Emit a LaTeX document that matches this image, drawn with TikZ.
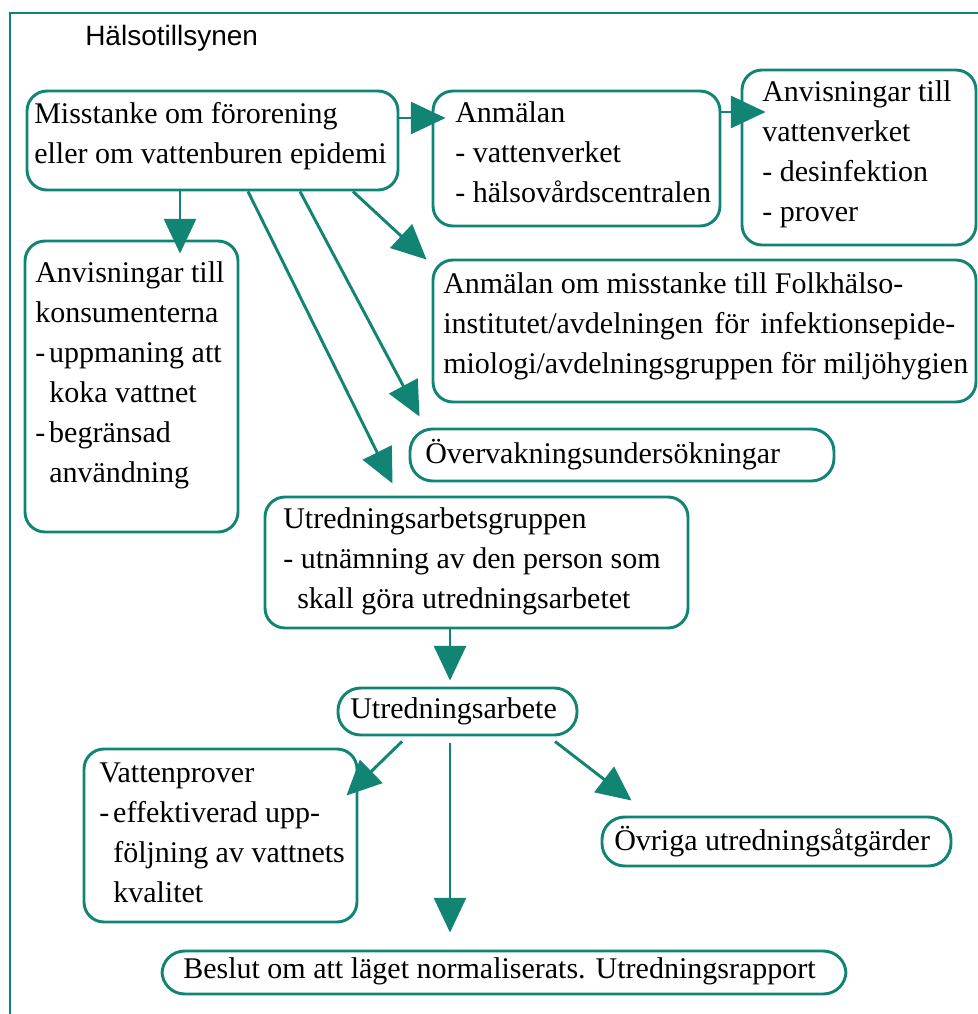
\documentclass[tikz,border=0pt]{standalone}
\usepackage{fontspec}
\setmainfont{Liberation Serif}
\newfontfamily\hsans{Liberation Sans}
\usetikzlibrary{arrows.meta,fit,calc}
\definecolor{tealA}{RGB}{18,132,116}
\newcommand{\fst}{\rule[-9pt]{0pt}{30pt}}
\newcommand{\dsh}{\makebox[10.5pt][l]{-}}
\newcommand{\ind}{\hspace*{10.5pt}}
\begin{document}
\begin{tikzpicture}[x=0.75pt,y=-0.75pt,
  box/.style={draw=tealA,line width=2.2pt,rounded corners=15pt,inner sep=0pt},
  pill/.style={box,rounded corners=17pt},
  txt/.style={anchor=north west,inner sep=0pt,align=left,font={\fontsize{22.5}{30}\selectfont}},
  arr/.style={draw=tealA,line width=2.2pt,-{Triangle[length=26pt,width=24pt]}},
  outerframe/.style={draw=tealA,line width=2.2pt}]
\useasboundingbox (0,0) rectangle (978,1014);
\clip (0,0) rectangle (978,1014);
\draw[outerframe] (10,13) rectangle (1000,1040);

\node[anchor=base west,inner sep=0pt,font={\hsans\fontsize{21}{25}\selectfont}] (title) at (85,45) {Hälsotillsynen};

% boxes
\node[box,fit={(27,91) (398,190)}] (mis) {};
\node[box,fit={(433,91) (720,226)}] (anm) {};
\node[box,fit={(742,70) (976,245)}] (avv) {};
\node[box,fit={(25,241) (238,532)}] (kon) {};
\node[box,fit={(433,260) (976,402)}] (aom) {};
\node[pill,fit={(410,429) (834,481)}] (ove) {};
\node[box,fit={(265,497) (688,628)}] (ugr) {};
\node[pill,fit={(338,688) (577,735)}] (ua) {};
\node[box,fit={(84,749) (357,922)}] (vp) {};
\node[pill,fit={(602,817) (951,866)}] (ovr) {};
\node[pill,fit={(162,951) (846,994)}] (bes) {};

% texts
\node[txt] (misT) at (34,95) {\fst Misstanke om förorening\\eller om vattenburen epidemi};
\node[txt] (anmT) at (455,94) {\fst Anmälan\\- vattenverket\\- hälsovårdscentralen};
\node[txt] (avvT) at (762,73) {\fst Anvisningar till\\vattenverket\\- desinfektion\\- prover};
\node[txt] (konT) at (35,254) {\fst Anvisningar till\\konsumenterna\\\dsh uppmaning att\\\ind koka vattnet\\\dsh begränsad\\\ind användning};
\node[txt] (aomT) at (443,265) {\fst Anmälan om misstanke till Folkhälso-\\\makebox[384pt][s]{institutet/avdelningen för infektionsepide-}\\miologi/avdelningsgruppen för miljöhygien};
\node[txt] (oveT) at (425,435) {\fst Övervakningsundersökningar};
\node[txt] (ugrT) at (283,500) {\fst Utredningsarbetsgruppen\\- utnämning av den person som\\\ind skall göra utredningsarbetet};
\node[txt] (uaT) at (350,690) {\fst Utredningsarbete};
\node[txt] (vpT) at (99,754) {\fst Vattenprover\\\dsh effektiverad upp-\\\ind följning av vattnets\\\ind kvalitet};
\node[txt] (ovrT) at (614,822) {\fst Övriga utredningsåtgärder};
\node[txt] (besT) at (183,950) {\fst Beslut om att läget normaliserats. Utredningsrapport};

% connectors
\draw[arr] (mis.east |- 0,118) -- ($(anm.west |- 0,118)+(14,0)$);
\draw[arr] (anm.east |- 0,112) -- ($(avv.west |- 0,112)+(25,0)$);
\draw[arr] (mis.south -| 180,0) -- ($(kon.north -| 180,0)+(0,14)$);
\draw[arr] (mis.south -| 353,0) -- ($(aom.north west)+(-5,1)$);
\draw[arr] (mis.south -| 300,0) -- ($(ove.north west)+(11,-11)$);
\draw[arr] (mis.south -| 248,0) -- ($(ugr.north west)+(129,-12)$);
\draw[arr] (ugr.south -| 450,0) -- ($(ua.north -| 450,0)+(0,-6)$);
\draw[arr] ($(ua.south -| 402,0)+(0,5)$) -- ($(vp.north east)+(-12,48)$);
\draw[arr] ($(ua.south -| 450,0)+(0,7)$) -- ($(bes.north -| 450,0)+(0,-17)$);
\draw[arr] ($(ua.south -| 555,0)+(0,5)$) -- ($(ovr.north west)+(31,-15)$);
\end{tikzpicture}
\end{document}
